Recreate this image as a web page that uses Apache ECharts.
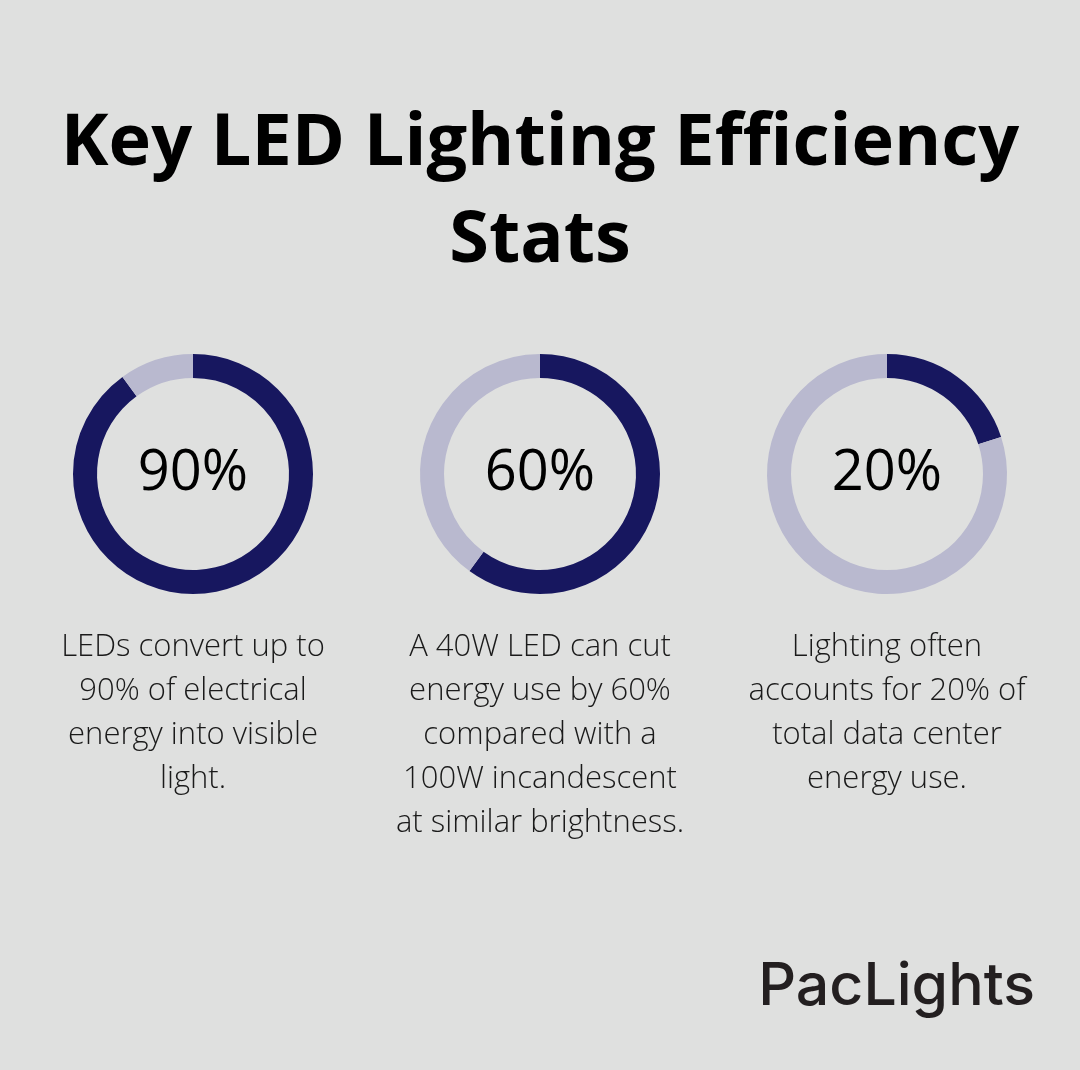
<!DOCTYPE html>
<html lang="en" style="height: 100%">
<head>
  <meta charset="utf-8">
</head>
<body style="height: 100%; margin: 0; background: #dfe0df">
  <div id="container" style="width: 1080px; height: 1070px"></div>

  <script type="text/javascript" src="https://fastly.jsdelivr.net/npm/echarts@6/dist/echarts.min.js"></script>

  <script type="text/javascript">
    var titleText = 'Key LED Lighting Efficiency\nStats';
    var shares = [90, 60, 20];
    var shareLabels = ['90%', '60%', '20%'];
    var captions = [
      'LEDs convert up to\n90% of electrical\nenergy into visible\nlight.',
      'A 40W LED can cut\nenergy use by 60%\ncompared with a\n100W incandescent\nat similar brightness.',
      'Lighting often\naccounts for 20% of\ntotal data center\nenergy use.'
    ];
    var centersX = [193, 540, 887];

    var dark = '#17175f';
    var light = '#b9b9cf';

    var dom = document.getElementById('container');
    var myChart = echarts.init(dom, null, { renderer: 'canvas' });

    var series = shares.map(function (v, i) {
      return {
        type: 'pie',
        silent: true,
        center: [centersX[i], 474],
        radius: [96, 120],
        startAngle: 90,
        clockwise: true,
        labelLine: { show: false },
        data: [
          {
            value: v,
            itemStyle: { color: dark },
            label: {
              show: true,
              position: 'center',
              formatter: shareLabels[i],
              fontFamily: 'Open Sans',
              fontSize: 56,
              fontWeight: 500,
              color: '#000'
            }
          },
          {
            value: 100 - v,
            itemStyle: { color: light },
            label: { show: false }
          }
        ]
      };
    });

    var graphics = captions.map(function (c, i) {
      return {
        type: 'text',
        x: centersX[i],
        y: 625,
        style: {
          text: c,
          fill: '#1a1a1a',
          font: '300 31px "Open Sans"',
          lineHeight: 44,
          textAlign: 'center',
          textVerticalAlign: 'top'
        }
      };
    });

    graphics.push({
      type: 'text',
      x: 540,
      y: 96,
      style: {
        text: titleText,
        fill: '#000',
        font: 'bold 72px "Open Sans"',
        lineHeight: 97,
        textAlign: 'center',
        textVerticalAlign: 'top'
      }
    });

    graphics.push({
      type: 'text',
      x: 1035,
      y: 987,
      style: {
        text: 'PacLights',
        fill: '#231f20',
        font: '500 59px Inter',
        textAlign: 'right',
        textVerticalAlign: 'middle'
      }
    });

    var option = {
      backgroundColor: '#dfe0df',
      animation: false,
      graphic: graphics,
      series: series
    };

    myChart.setOption(option);
    window.addEventListener('resize', myChart.resize);
  </script>
</body>
</html>
